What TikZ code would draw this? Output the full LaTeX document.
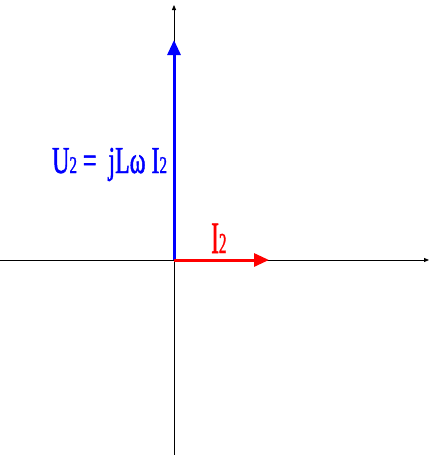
\documentclass[tikz,border=0pt]{standalone}
\usepackage{fontspec}
\newfontfamily\condA[FakeStretch=0.63,FakeBold=1.2]{Liberation Serif}
\newfontfamily\condB[FakeStretch=0.52,FakeBold=1.2]{Liberation Serif}
\usetikzlibrary{arrows.meta}
\begin{document}
\begin{tikzpicture}[x=1pt,y=-1pt,
  axis/.style={line width=0.8pt,-{Triangle[length=5pt,width=4pt]}},
  phasor/.style={line width=3pt,-{Triangle[length=15pt,width=13pt]}},
  ulbl/.style={blue,font=\condA\fontsize{38}{40}\selectfont,inner sep=0pt,anchor=base west},
  ilbl/.style={red,font=\condB\fontsize{45}{46}\selectfont,inner sep=0pt,anchor=base west}]
\useasboundingbox (0,0) rectangle (439,455);
\coordinate (O) at (174,260);
\coordinate (xs) at (0,260);
\coordinate (xe) at (429,260);
\coordinate (ys) at (174,455);
\coordinate (ye) at (174,5);
\coordinate (U) at (174,40);
\coordinate (I) at (269,260);
\draw[axis] (xs) -- (xe);
\draw[axis] (ys) -- (ye);
\draw[phasor,blue] (O) -- (U);
\draw[phasor,red] (O) -- (I);
\node[ulbl] (ulabel) at (52,173) {U{\fontsize{24}{24}\selectfont 2} = \ jLω I{\fontsize{24}{24}\selectfont 2}};
\node[ilbl] (ilabel) at (211,253) {I{\fontsize{29}{29}\selectfont 2}};
\end{tikzpicture}
\end{document}
